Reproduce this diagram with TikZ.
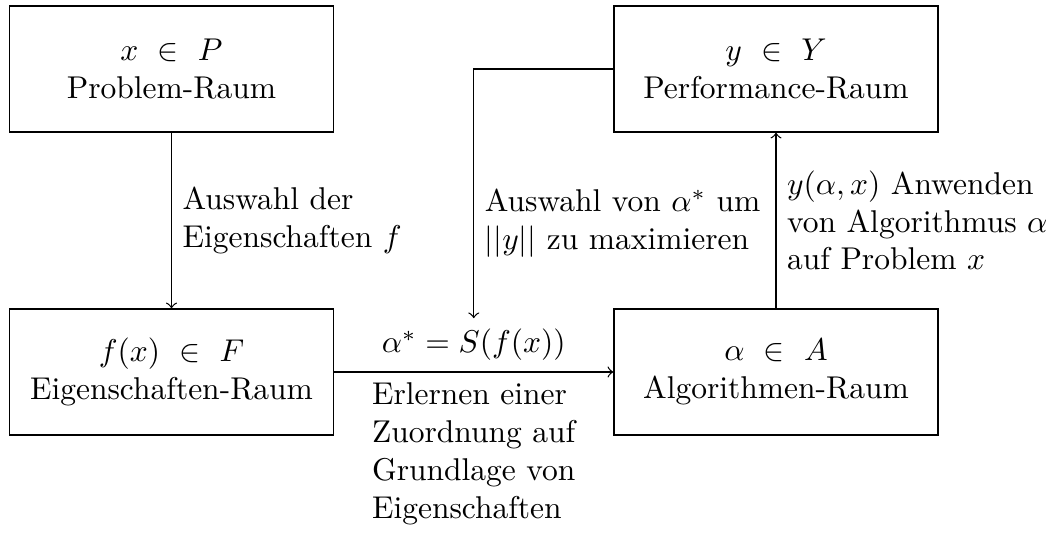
\documentclass[tikz,border=0pt]{standalone}
\usetikzlibrary{arrows}
\begin{document}
\begin{tikzpicture}[x=0.31746pt,y=-0.31746pt,
  box/.style={draw, minimum width=102.9pt, minimum height=40pt, align=center},
  lbl/.style={align=left},
  >=to]
\useasboundingbox (0,0) rectangle (1048,538);
\node[box] (P) at (171.5,69) {$x \ \in\ P$\\Problem-Raum};
\node[box] (Y) at (776,69) {$y \ \in\ Y$\\Performance-Raum};
\node[box] (F) at (171.5,372) {$f(x) \ \in\ F$\\Eigenschaften-Raum};
\node[box] (A) at (776,372) {$\alpha \ \in\ A$\\Algorithmen-Raum};
\draw[->] (P) -- node[right, lbl] {Auswahl der\\Eigenschaften $f$} (F);
\draw[->] (F) -- node[above] (S) {$\alpha^* = S(f(x))$} node[below, lbl] {Erlernen einer\\Zuordnung auf\\Grundlage von\\Eigenschaften} (A);
\draw[->] (A) -- node[right, lbl] {$y(\alpha,x)$ Anwenden\\von Algorithmus $\alpha$\\auf Problem $x$} (Y);
\draw[->] (Y.west) -| node[pos=0.81, right, lbl] {Auswahl von $\alpha^*$ um\\$||y||$ zu maximieren} (S.north);
\end{tikzpicture}
\end{document}
